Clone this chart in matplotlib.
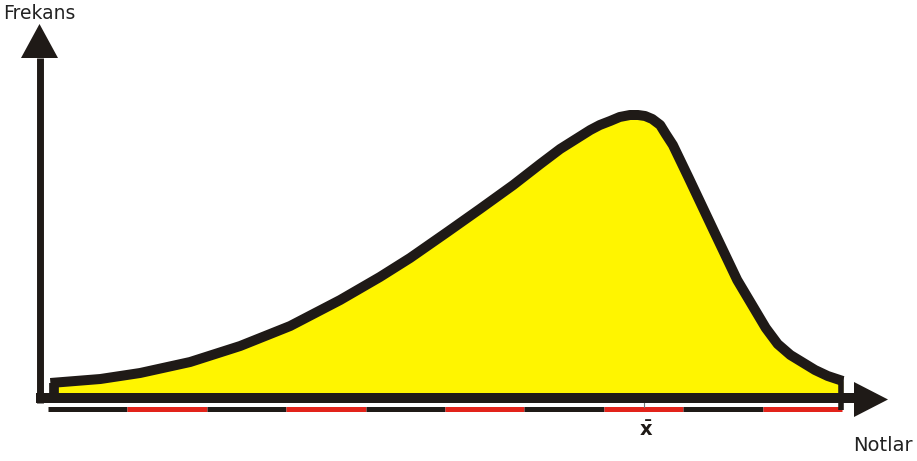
import numpy as np
from matplotlib import pyplot as plt

# curve: grade (one bar segment = 1 unit) vs frequency
grade = [0.03, 0.66, 1.16, 1.79, 2.42, 3.05, 3.68, 4.18, 4.56, 5.03, 5.44,
         5.86, 6.20, 6.45, 6.83, 6.95, 7.08, 7.20, 7.33, 7.43, 7.52, 7.61,
         7.71, 7.78, 7.87, 8.07, 8.38, 8.68, 9.04, 9.19, 9.35, 9.66, 9.82,
         10.01]
freq = [10, 14, 20, 31, 47, 67, 93, 116, 135, 161, 184,
        208, 229, 244, 263, 268, 272, 276, 278, 278, 277, 274,
        268, 259, 248, 215, 163, 113, 65, 49, 38, 23, 17,
        12]

segments = list(range(11))      # 10 bar pieces, black / red
seg_colors = ['#1f1a17', '#e2231a']
mean_grade = 7.5

black = '#1f1a17'
yellow = '#fff500'

fig = plt.figure(figsize=(9.17, 4.61), dpi=100)
ax = fig.add_axes([0, 0, 1, 1])
# 1 grade = 79.4 px, 1 freq = 1 px
ax.set_xlim(-48 / 79.4, (917 - 48) / 79.4)
ax.set_ylim(-68, 393)
ax.axis('off')
px = 1 / 79.4  # one pixel in grade units

# filled curve
ax.fill_between(grade, freq, 0, color=yellow, lw=0, zorder=1)
ax.plot(grade, freq, color=black, lw=7.2, solid_capstyle='butt',
        solid_joinstyle='round', zorder=3)
ax.plot([grade[0] + 4 * px, grade[0] + 4 * px], [freq[0], 0], color=black,
        lw=7, solid_capstyle='butt', zorder=3)
ax.plot([grade[-1] - 2 * px, grade[-1] - 2 * px], [freq[-1] + 4, -17],
        color=black, lw=4, solid_capstyle='butt', zorder=3)

# x axis with arrow
ax.plot([-12 * px, 808 * px], [-5, -5], color=black, lw=7.2,
        solid_capstyle='butt', zorder=2)
ax.fill([806 * px, 840 * px, 806 * px], [11, -6.5, -24], color=black, lw=0)

# y axis with arrow
ax.plot([-8.5 * px, -8.5 * px], [-10, 335], color=black, lw=5,
        solid_capstyle='butt', zorder=2)
ax.fill([-27 * px, -8.5 * px, 10 * px], [335, 369, 335], color=black, lw=0)

# segmented bar under the axis
for i in range(len(segments) - 1):
    ax.plot([segments[i], segments[i + 1]], [-15.5, -15.5],
            color=seg_colors[i % 2], lw=3.6, solid_capstyle='butt')
ax.plot([mean_grade, mean_grade], [-10, -14], color='#777777', lw=0.8)

ax.text(mean_grade + 0.03, -37, r'$\mathbf{\bar{x}}$', fontsize=14,
        color=black, ha='center', va='center')
ax.text(-0.567, 389, 'Frekans', fontsize=13.5, color='#222222',
        ha='left', va='top')
ax.text(10.14, -43, 'Notlar', fontsize=14, color='#222222',
        ha='left', va='top')

fig.savefig('out.png', dpi=100)
